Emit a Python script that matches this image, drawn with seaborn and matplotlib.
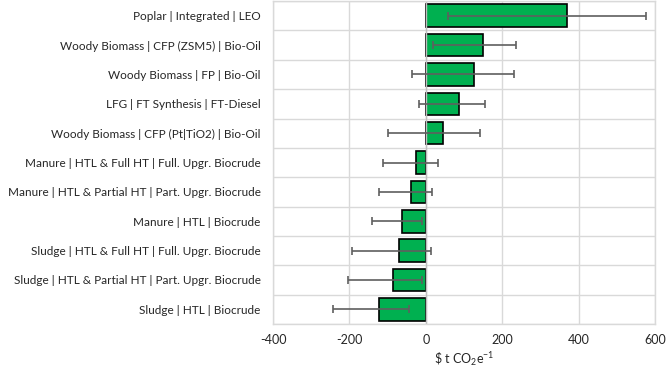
import numpy as np
import pandas as pd
import seaborn as sns
import matplotlib.pyplot as plt
from matplotlib.ticker import MultipleLocator

pathways = [
    "Poplar | Integrated | LEO",
    "Woody Biomass | CFP (ZSM5) | Bio-Oil",
    "Woody Biomass | FP | Bio-Oil",
    "LFG | FT Synthesis | FT-Diesel",
    "Woody Biomass | CFP (Pt|TiO2) | Bio-Oil",
    "Manure | HTL & Full HT | Full. Upgr. Biocrude",
    "Manure | HTL & Partial HT | Part. Upgr. Biocrude",
    "Manure | HTL | Biocrude",
    "Sludge | HTL & Full HT | Full. Upgr. Biocrude",
    "Sludge | HTL & Partial HT | Part. Upgr. Biocrude",
    "Sludge | HTL | Biocrude",
]
cost = [370, 150, 125, 86, 46, -25, -38, -62, -70, -86, -122]
err_low = [58, 19, -37, -19, -99, -113, -122, -141, -194, -204, -242]
err_high = [576, 235, 231, 156, 142, 33, 16, -9, 14, -9, -43]

df = pd.DataFrame({'Pathway': pathways, 'Cost': cost,
                   'Low': err_low, 'High': err_high})

sns.set_theme(style="white")
plt.rcParams['font.family'] = ['Lato', 'DejaVu Sans']
plt.rcParams['mathtext.fontset'] = 'custom'
plt.rcParams['mathtext.rm'] = 'Lato'
plt.rcParams['mathtext.default'] = 'regular'
plt.rcParams['axes.unicode_minus'] = False

fig = plt.figure(figsize=(6.66, 3.69), dpi=100)
ax = fig.add_axes([0.41, 0.122, 0.5735, 0.875])

sns.barplot(x='Cost', y='Pathway', data=df, orient='h', color='#00b050',
            saturation=1, edgecolor='black', linewidth=1.2, width=0.77, ax=ax)

ypos = np.arange(len(df))
xerr = [df['Cost'] - df['Low'], df['High'] - df['Cost']]
ax.errorbar(df['Cost'], ypos, xerr=xerr, fmt='none', ecolor='#5f5f5f',
            elinewidth=1.2, capsize=3, capthick=1.2, zorder=5)

ax.set_xlim(-400, 600)
ax.set_ylim(len(df) - 0.5, -0.5)
ax.xaxis.set_major_locator(MultipleLocator(200))
ax.set_yticks(np.arange(-0.5, len(df)), minor=True)
ax.grid(axis='x', which='major', color='#d9d9d9', linewidth=1)
ax.grid(axis='y', which='minor', color='#d9d9d9', linewidth=1)
ax.set_axisbelow(True)
ax.axvline(0, color='#bfbfbf', linewidth=1, zorder=1)
for s in ax.spines.values():
    s.set_color('#d9d9d9')
    s.set_linewidth(1)
ax.tick_params(axis='both', which='both', length=0, colors='#262626')
ax.tick_params(axis='y', labelsize=8.5, pad=9)
ax.tick_params(axis='x', labelsize=9, pad=7)
ax.set_ylabel('')
ax.set_xlabel('\\$ t CO$_2$e$^{-1}$', fontsize=9, color='#262626', labelpad=3)

plt.savefig('out.png', dpi=100)
